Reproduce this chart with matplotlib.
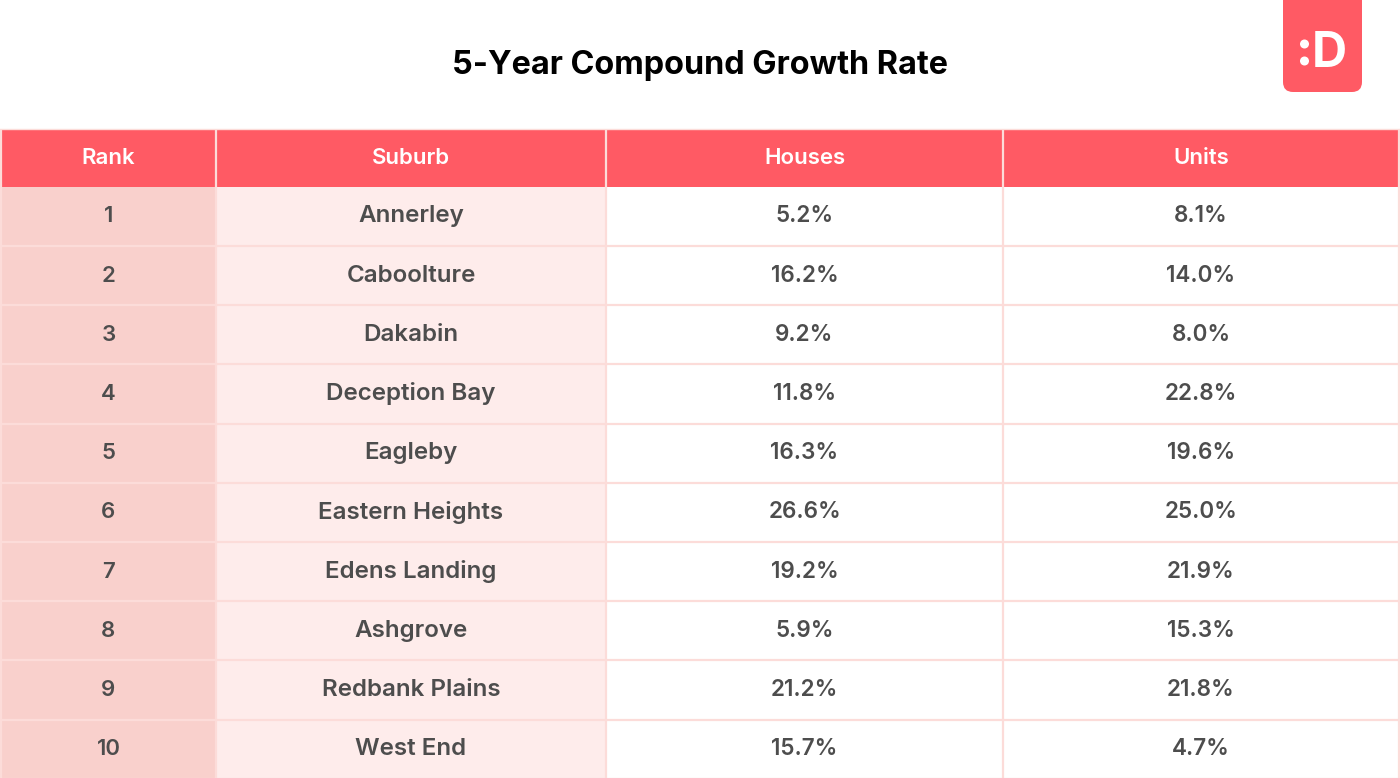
import matplotlib
matplotlib.use('Agg')
import matplotlib.pyplot as plt
from matplotlib.patches import Rectangle, FancyBboxPatch, Circle

plt.rcParams['font.family'] = ['Inter', 'DejaVu Sans']

columns = ['Rank', 'Suburb', 'Houses', 'Units']
ranks = ['1', '2', '3', '4', '5', '6', '7', '8', '9', '10']
suburbs = ['Annerley', 'Caboolture', 'Dakabin', 'Deception Bay', 'Eagleby',
           'Eastern Heights', 'Edens Landing', 'Ashgrove', 'Redbank Plains', 'West End']
houses = ['5.2%', '16.2%', '9.2%', '11.8%', '16.3%', '26.6%', '19.2%', '5.9%', '21.2%', '15.7%']
units = ['8.1%', '14.0%', '8.0%', '22.8%', '19.6%', '25.0%', '21.9%', '15.3%', '21.8%', '4.7%']

RED = '#ff5a64'
GRID = '#fcdcd9'
DARK = '#4d4d4d'
col_edges = [1, 216, 606, 1003, 1399]
cell_bg = ['#f9d0cc', '#feeceb', '#ffffff', '#ffffff']
col_size = [16, 17.4, 16.2, 16.2]
header_top = 129
header_bottom = 186.7
row_h = 59.2

fig = plt.figure(figsize=(14, 7.78), dpi=100)
ax = fig.add_axes([0, 0, 1, 1])
ax.set_xlim(0, 1400)
ax.set_ylim(778, 0)
ax.axis('off')

ax.text(700, 65, '5-Year Compound Growth Rate', ha='center', va='center',
        fontsize=23.3, fontweight='bold', color='#000000')

# logo
ax.add_patch(FancyBboxPatch((1283, -20), 79, 112, boxstyle='round,pad=0,rounding_size=10',
                            fc=RED, ec='none'))
ax.add_patch(Circle((1304.5, 44), 4.5, fc='white', ec='none'))
ax.add_patch(Circle((1304.5, 61), 4.5, fc='white', ec='none'))
ax.text(1329, 54, 'D', ha='center', va='center', fontsize=35, fontweight='bold', color='white')

# header
for i, name in enumerate(columns):
    x0, x1 = col_edges[i], col_edges[i + 1]
    ax.add_patch(Rectangle((x0 + 1, header_top), x1 - x0 - 1.5, header_bottom - header_top,
                           fc=RED, ec='none'))
    ax.text((x0 + x1) / 2, 158, name, ha='center', va='center', fontsize=16,
            fontweight='semibold', color='white')

# body
for r in range(len(ranks)):
    y0 = header_bottom + r * row_h
    values = [ranks[r], suburbs[r], houses[r], units[r]]
    for c, val in enumerate(values):
        x0, x1 = col_edges[c], col_edges[c + 1]
        ax.add_patch(Rectangle((x0, y0), x1 - x0, row_h, fc=cell_bg[c], ec='none'))
        ax.text((x0 + x1) / 2, y0 + row_h / 2, val, ha='center', va='center', fontsize=col_size[c],
                fontweight='semibold', color=DARK)
    ax.plot([0, 1400], [y0 + row_h, y0 + row_h], color=GRID, lw=1.6, solid_capstyle='butt')

for x in col_edges:
    ax.plot([x, x], [header_top, 778], color=GRID, lw=1.6, solid_capstyle='butt')
ax.plot([0, 1400], [header_top - 0.5, header_top - 0.5], color=GRID, lw=1)

fig.savefig('out.png', dpi=100)
